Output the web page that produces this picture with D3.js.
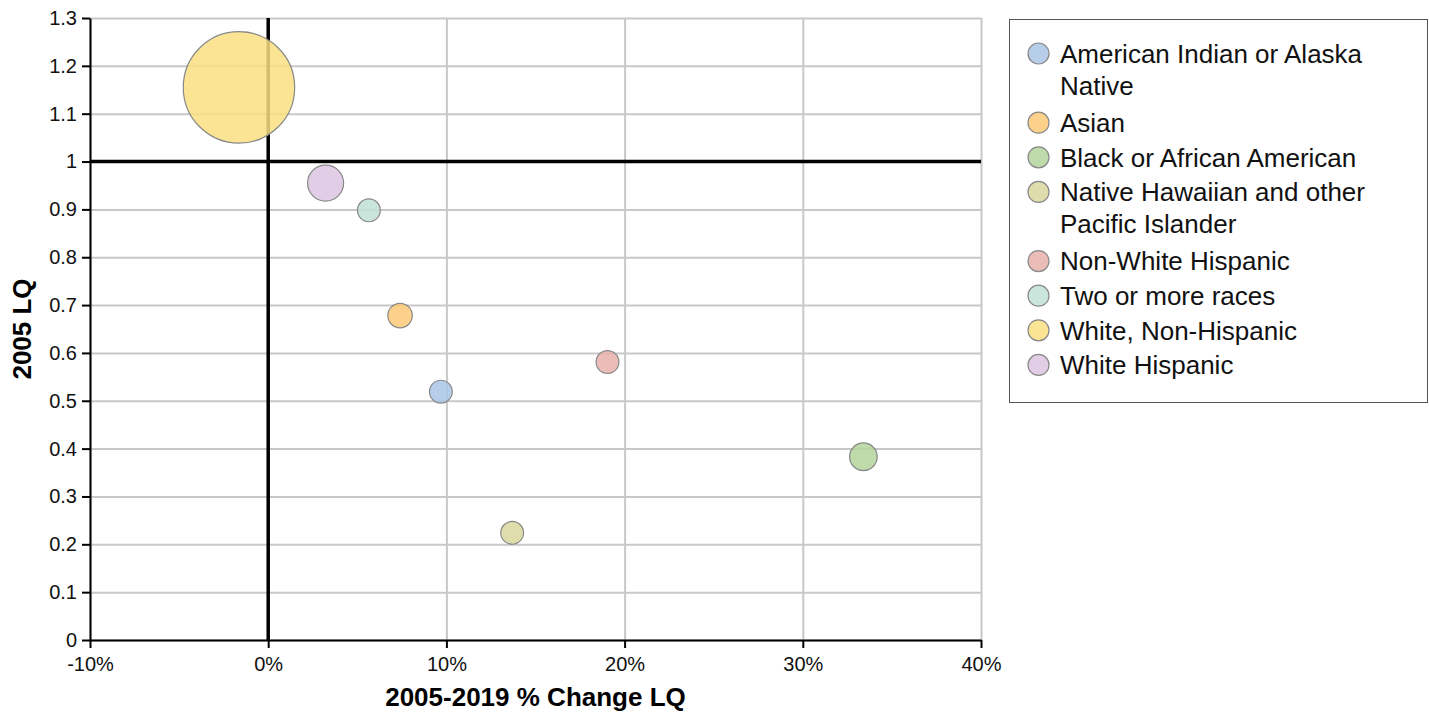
<!DOCTYPE html>
<meta charset="utf-8">
<style>
    body {
        margin: 0;
        background: #fff;
    }

    svg {
        font-family: "Liberation Sans", Arial, sans-serif;
    }

    .axis path,
    .axis line {
        stroke: black;
        stroke-width: 2;
    }

    .axis text {
        font-size: 20px;
        fill: #111;
    }

    .grid line {
        stroke: #c8c8c8;
        stroke-width: 2;
    }

    .grid path {
        display: none;
    }

    .dot {
        stroke: #888;
        stroke-width: 1.2;
        fill-opacity: 0.85;
    }

    .axis-title {
        font-size: 26px;
        font-weight: bold;
    }

    .legend text {
        font-size: 26px;
        fill: #111;
    }
</style>
<body>
<script src="https://cdnjs.cloudflare.com/ajax/libs/d3/7.8.5/d3.min.js"></script>
<script>
    // data
    const groups = [
        "American Indian or Alaska Native",
        "Asian",
        "Black or African American",
        "Native Hawaiian and other Pacific Islander",
        "Non-White Hispanic",
        "Two or more races",
        "White, Non-Hispanic",
        "White Hispanic"
    ];
    const pctChange = [9.69, 7.4, 33.4, 13.69, 19.04, 5.65, -1.64, 3.22];
    const lq2005 = [0.519, 0.678, 0.383, 0.224, 0.581, 0.898, 1.155, 0.955];
    const bubbleSize = [2.6, 3.0, 3.8, 2.6, 2.6, 2.6, 62.0, 6.5];
    const colors = ["#a9c6e6", "#fec977", "#b4d49c", "#d9d79d", "#e9b1ab", "#c1e1d5", "#fae182", "#dcc4e1"];

    // legend labels split over lines as in the picture
    const legendLines = [
        ["American Indian or Alaska", "Native"],
        ["Asian"],
        ["Black or African American"],
        ["Native Hawaiian and other", "Pacific Islander"],
        ["Non-White Hispanic"],
        ["Two or more races"],
        ["White, Non-Hispanic"],
        ["White Hispanic"]
    ];

    const xTicks = [-10, 0, 10, 20, 30, 40];
    const yTicks = d3.range(0, 14).map(d => d / 10);

    const width = 1429;
    const height = 716;
    const plot = {left: 90, right: 981, top: 18, bottom: 640};

    const data = groups.map((g, i) => ({
        group: g,
        x: pctChange[i],
        y: lq2005[i],
        size: bubbleSize[i],
        color: colors[i],
        lines: legendLines[i]
    }));

    const svg = d3.select("body")
        .append("svg")
        .attr("width", width)
        .attr("height", height);

    const xScale = d3.scaleLinear().domain([-10, 40]).range([plot.left, plot.right]);
    const yScale = d3.scaleLinear().domain([0, 1.3]).range([plot.bottom, plot.top]);
    const rScale = d3.scaleSqrt().domain([0, d3.max(bubbleSize)]).range([0, 55.7]);

    // gridlines
    svg.append("g")
        .attr("class", "grid")
        .attr("transform", "translate(0," + plot.bottom + ")")
        .call(d3.axisBottom(xScale).tickValues(xTicks).tickSize(-(plot.bottom - plot.top)).tickFormat(""));

    svg.append("g")
        .attr("class", "grid")
        .attr("transform", "translate(" + plot.left + ",0)")
        .call(d3.axisLeft(yScale).tickValues(yTicks).tickSize(-(plot.right - plot.left)).tickFormat(""));

    // reference lines at 0% and LQ = 1
    svg.append("line")
        .attr("x1", xScale(0)).attr("x2", xScale(0))
        .attr("y1", plot.top).attr("y2", plot.bottom)
        .attr("stroke", "black").attr("stroke-width", 3.5);

    svg.append("line")
        .attr("x1", plot.left).attr("x2", plot.right)
        .attr("y1", yScale(1)).attr("y2", yScale(1))
        .attr("stroke", "black").attr("stroke-width", 3.5);

    // axes
    const xAxis = d3.axisBottom(xScale)
        .tickValues(xTicks)
        .tickSize(8)
        .tickSizeOuter(0)
        .tickFormat(d => d + "%");

    svg.append("g")
        .attr("class", "axis")
        .attr("transform", "translate(0," + plot.bottom + ")")
        .call(xAxis)
        .selectAll("text")
        .attr("dy", "1.0em");

    const yAxis = d3.axisLeft(yScale)
        .tickValues(yTicks)
        .tickSize(8)
        .tickSizeOuter(0)
        .tickFormat(d => d3.format("~g")(d));

    svg.append("g")
        .attr("class", "axis")
        .attr("transform", "translate(" + plot.left + ",0)")
        .call(yAxis)
        .selectAll("text")
        .attr("x", -13);

    // bubbles
    svg.append("g")
        .selectAll("circle")
        .data(data)
        .enter().append("circle")
        .attr("class", "dot")
        .attr("cx", d => xScale(d.x))
        .attr("cy", d => yScale(d.y))
        .attr("r", d => rScale(d.size))
        .style("fill", d => d.color);

    // axis titles
    svg.append("text")
        .attr("class", "axis-title")
        .attr("x", (plot.left + plot.right) / 2)
        .attr("y", 706)
        .attr("text-anchor", "middle")
        .text("2005-2019 % Change LQ");

    svg.append("text")
        .attr("class", "axis-title")
        .attr("transform", "translate(31," + ((plot.top + plot.bottom) / 2) + ") rotate(-90)")
        .attr("text-anchor", "middle")
        .text("2005 LQ");

    // legend
    const legend = svg.append("g").attr("class", "legend");

    legend.append("rect")
        .attr("x", 1009.5)
        .attr("y", 19.5)
        .attr("width", 418)
        .attr("height", 383)
        .attr("fill", "white")
        .attr("stroke", "#555")
        .attr("stroke-width", 1);

    const lineStep = 34.6;
    let row = 0;
    data.forEach(d => {
        const y0 = 53.5 + row * lineStep;
        const item = legend.append("g");
        item.append("circle")
            .attr("class", "dot")
            .attr("cx", 1038.5)
            .attr("cy", y0)
            .attr("r", 10.5)
            .style("fill", d.color);
        item.selectAll("text")
            .data(d.lines)
            .enter().append("text")
            .attr("x", 1060)
            .attr("y", (t, j) => y0 + j * (lineStep - 2.5))
            .attr("dy", "0.36em")
            .text(t => t);
        row += d.lines.length;
    });
</script>
</body>
